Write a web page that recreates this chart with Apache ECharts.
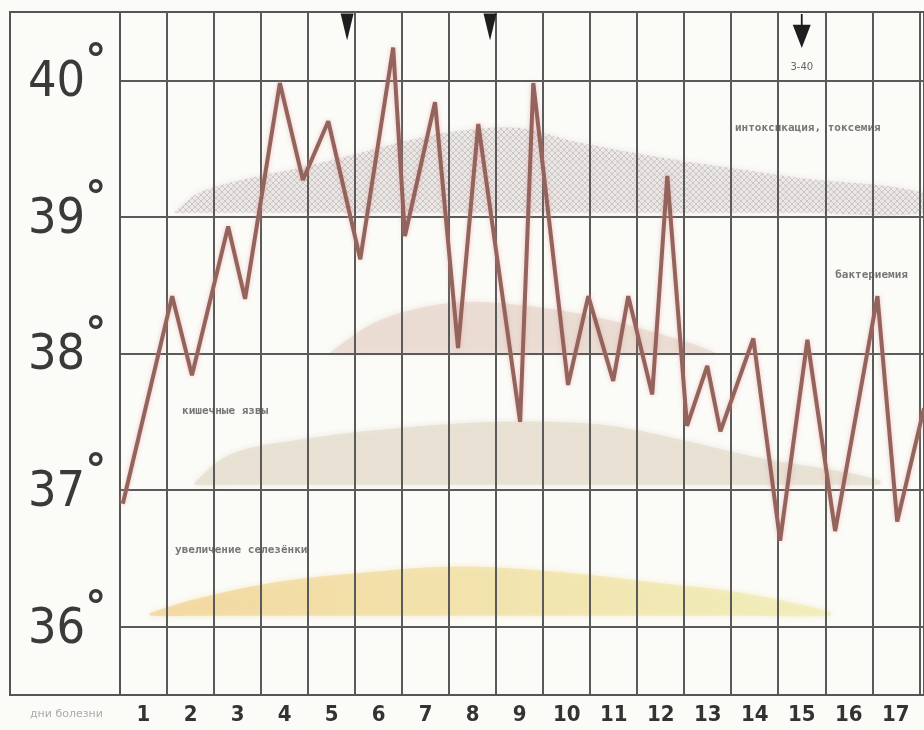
<!DOCTYPE html>
<html><head><meta charset="utf-8">
<script src="https://cdn.jsdelivr.net/npm/echarts@6/dist/echarts.min.js"></script>
<style>html,body{margin:0;padding:0;background:#fbfbf8}#c{width:924px;height:730px}</style>
</head><body><div id="c"></div>
<script>
// ---- data ----
const dayLabels = ['1','2','3','4','5','6','7','8','9','10','11','12','13','14','15','16','17'];
const dayPositions = [0.5,1.5,2.5,3.5,4.5,5.5,6.5,7.5,8.5,9.5,10.5,11.5,12.5,13.5,14.5,15.5,16.5];
const tempTicks = [36,37,38,39,40];

// temperature curve: day position (fractional) and degrees
const tempX = [0.06,1.11,1.53,2.30,2.66,3.40,3.89,4.43,5.11,5.81,6.06,6.70,7.19,7.62,8.51,8.79,9.53,9.96,10.49,10.81,11.32,11.64,12.06,12.49,12.77,13.47,14.04,14.62,15.21,16.11,16.53,17.1];
const tempY = [36.9,38.42,37.84,38.93,38.4,39.98,39.27,39.7,38.69,40.24,38.86,39.84,38.04,39.68,37.5,39.98,37.77,38.42,37.8,38.42,37.7,39.3,37.47,37.91,37.43,38.11,36.63,38.1,36.7,38.42,36.77,37.6];

// shaded bands (symptom intensity)
const intoxX    = [1.17,1.70,2.76,3.83,4.89,6.38,7.44,8.51,9.57,11.27,12.76,14.46,17.1];
const intoxTop  = [39.04,39.18,39.285,39.36,39.45,39.58,39.64,39.65,39.56,39.45,39.37,39.285,39.175];
const intoxBase = [39.03,39.03,39.03,39.03,39.03,39.03,39.03,39.03,39.03,39.03,39.03,39.03,39.03];

const bactX    = [4.47,5.53,7.02,8.51,10.21,11.91,12.65];
const bactTop  = [38.01,38.245,38.37,38.355,38.26,38.1,38.01];
const bactBase = [38.0,38.0,38.0,38.0,38.0,38.0,38.0];

const ulcerX    = [1.6,2.34,3.83,5.95,8.08,10.21,11.91,13.61,15.1,16.16];
const ulcerTop  = [37.06,37.26,37.37,37.455,37.5,37.48,37.37,37.235,37.15,37.07];
const ulcerBase = [37.04,37.04,37.04,37.04,37.04,37.04,37.04,37.04,37.04,37.04];

const spleenX    = [0.64,1.70,3.40,5.32,7.23,9.36,11.48,13.19,15.1];
const spleenTop  = [36.1,36.21,36.33,36.4,36.44,36.4,36.32,36.25,36.11];
const spleenBase = [36.08,36.08,36.08,36.08,36.08,36.08,36.08,36.08,36.08];

// arrows at top
const arrowX = [4.83, 7.87, 14.5];
const arrowY = [40.39, 40.39, 40.36];
const arrowText = ['', '', '3-40'];

// band captions
const noteX = [13.08, 15.21, 1.32, 1.17];
const noteY = [39.65, 38.575, 37.58, 36.56];
const noteText = ['интоксикация, токсемия', 'бактериемия', 'кишечные язвы', 'увеличение селезёнки'];

// ---- chart ----
function hatch(){
  const c = document.createElement('canvas'); c.width = 6; c.height = 6;
  const g = c.getContext('2d');
  g.fillStyle = 'rgba(234,230,228,0.55)'; g.fillRect(0,0,6,6);
  g.strokeStyle = 'rgba(172,165,165,0.5)'; g.lineWidth = 1;
  g.beginPath(); g.moveTo(0,0); g.lineTo(6,6); g.moveTo(6,0); g.lineTo(0,6); g.stroke();
  return c;
}
function pairs(xs, ys){ return xs.map((x,i)=>[x, ys[i]]); }
function band(name, xs, top, base, fill, shadow){
  return {
    type:'custom', name:name, silent:true, z:-1,
    data: xs.map((x,i)=>[x, top[i], base[i]]),
    encode:{x:0, y:[1,2]},
    renderItem:(params, api)=>{
      if (params.dataIndex !== 0) return null;
      const upper = xs.map((x,i)=>api.coord([x, top[i]]));
      const lower = xs.map((x,i)=>api.coord([x, base[i]])).reverse();
      return {type:'polygon', shape:{points: upper.concat(lower), smooth:0.35},
        style:{fill:fill, shadowBlur:6, shadowColor:shadow}};
    }
  };
}

const chart = echarts.init(document.getElementById('c'), null, {renderer:'canvas'});
const option = {
  backgroundColor:'#fbfbf8',
  animation:false,
  grid:{left:120, right:0, top:12, bottom:35, outerBoundsMode:'none'},
  xAxis:{type:'value', min:0, max:17.1, interval:1, z:1,
    axisLine:{show:true, lineStyle:{color:'#555', width:2}},
    axisTick:{show:false},
    splitLine:{show:true, lineStyle:{color:'#5a5a5a', width:2}},
    axisLabel:{customValues:dayPositions, margin:9,
      formatter:(v)=>dayLabels[Math.round(v-0.5)],
      fontFamily:'DejaVu Sans Condensed', fontWeight:'bold', fontSize:22, color:'#333'}},
  yAxis:{type:'value', min:35.5, max:40.5, interval:0.5, z:1,
    axisLine:{show:true, lineStyle:{color:'#555', width:2}},
    axisTick:{show:false},
    splitLine:{show:true, lineStyle:{color:['transparent','#5a5a5a'], width:2}},
    axisLabel:{customValues:tempTicks, align:'left', margin:92,
      formatter:(v)=>'{n|'+v+'}{d|°}',
      rich:{
        n:{fontFamily:'DejaVu Sans Condensed', fontSize:50, color:'#3a3a3a', padding:[6,0,0,0]},
        d:{fontFamily:'DejaVu Sans', fontWeight:'bold', fontSize:42, color:'#3a3a3a', padding:[0,0,34,0]}
      }}},
  graphic:[
    {type:'rect', shape:{x:10, y:12, width:920, height:683}, style:{fill:null, stroke:'#555', lineWidth:2}, silent:true},
    {type:'text', x:30, y:709, style:{text:'дни болезни', fill:'#aaa', font:'11px "DejaVu Sans"'}, silent:true}
  ],
  series:[
    band('intox', intoxX, intoxTop, intoxBase, {image:hatch(), repeat:'repeat'}, 'rgba(222,214,212,0.8)'),
    band('bact', bactX, bactTop, bactBase, 'rgba(230,212,200,0.6)', 'rgba(230,212,200,0.8)'),
    band('ulcer', ulcerX, ulcerTop, ulcerBase, 'rgba(228,220,204,0.65)', 'rgba(228,220,204,0.9)'),
    band('spleen', spleenX, spleenTop, spleenBase,
      {type:'linear', x:0, y:0, x2:1, y2:0, colorStops:[
        {offset:0, color:'rgba(243,205,140,0.65)'},{offset:1, color:'rgba(236,236,170,0.55)'}]},
      'rgba(240,225,160,0.9)'),
    {type:'line', name:'temperature', data:pairs(tempX, tempY), symbol:'none', z:5,
      lineStyle:{color:'#93645c', width:4, shadowColor:'rgba(230,150,150,0.55)', shadowBlur:4}},
    {type:'scatter', name:'arrows', z:6, silent:true,
      data:arrowX.map((x,i)=>({value:[x, arrowY[i]], label:{show:!!arrowText[i], formatter:arrowText[i]},
        symbol: i===2 ? 'path://M9,0 L11,0 L11,10 L20,10 L10,32 L0,10 L9,10 Z' : 'path://M0,0 L13,0 L6.5,27 Z',
        symbolSize: i===2 ? [18,34] : [13,27]})),
      itemStyle:{color:'#1e1e1e', opacity:1},
      label:{position:'bottom', distance:14, fontSize:10, color:'#666', fontFamily:'DejaVu Sans'}},
    {type:'scatter', name:'notes', z:6, silent:true, symbolSize:0,
      data:noteX.map((x,i)=>({value:[x, noteY[i]], label:{formatter:noteText[i]}})),
      label:{show:true, position:'right', distance:0, fontSize:11, color:'#555',
        fontFamily:'DejaVu Sans Mono', fontWeight:'bold'}}
  ]
};
chart.setOption(option);
</script></body></html>
